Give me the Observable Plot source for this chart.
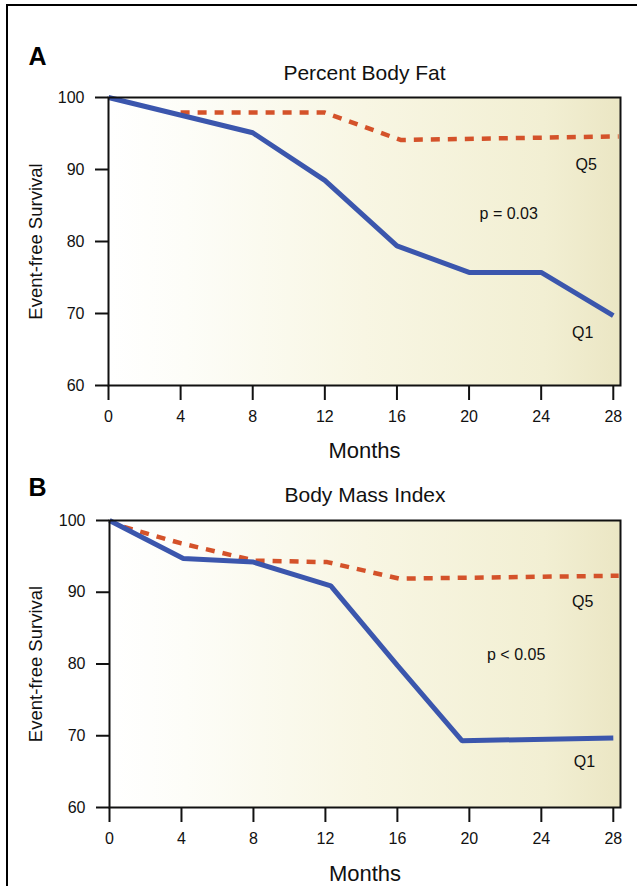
<!DOCTYPE html>
<html>
<head>
<meta charset="utf-8">
<script src="https://cdn.jsdelivr.net/npm/d3@7"></script>
<script src="https://cdn.jsdelivr.net/npm/@observablehq/plot@0.6"></script>
<style>
  html, body { margin: 0; padding: 0; background: #ffffff; }
  #fig { position: relative; width: 637px; height: 886px; overflow: hidden; background: #ffffff; }
  #fig .panel { position: absolute; left: 0; }
  #outer { position: absolute; left: 6px; top: 4px; width: 700px; height: 900px;
           border-left: 2.5px solid #000; border-top: 2.5px solid #000; pointer-events: none; }
</style>
</head>
<body>
<div id="fig"><div id="outer"></div></div>
<script>
// ---- Data ----
const xTicks = [0, 4, 8, 12, 16, 20, 24, 28];
const yTicks = [60, 70, 80, 90, 100];

// Panel A: Percent Body Fat
const monthsA_Q1 = [0, 8, 12, 16, 20, 24, 28];
const survA_Q1   = [100, 95.1, 88.5, 79.4, 75.7, 75.7, 69.7];
const monthsA_Q5 = [4, 12, 16.2, 28.3];
const survA_Q5   = [97.9, 97.9, 94.1, 94.6];
const notesA_text  = ["p = 0.03", "Q5", "Q1"];
const notesA_month = [22.2, 26.5, 26.3];
const notesA_surv  = [83.8, 90.6, 67.3];

// Panel B: Body Mass Index
const monthsB_Q1 = [0, 4.1, 8, 12.3, 16, 19.6, 28];
const survB_Q1   = [100, 94.7, 94.2, 90.9, 79.8, 69.3, 69.7];
const monthsB_Q5 = [0.8, 4, 8.1, 12.1, 16.1, 28.3];
const survB_Q5   = [99.1, 96.8, 94.4, 94.2, 91.9, 92.3];
const notesB_text  = ["p < 0.05", "Q5", "Q1"];
const notesB_month = [22.6, 26.3, 26.4];
const notesB_surv  = [81.3, 88.6, 66.3];

const toRows = (ms, vs) => ms.map((m, i) => ({month: m, surv: vs[i]}));
const toNotes = (t, ms, vs) => t.map((s, i) => ({label: s, month: ms[i], surv: vs[i]}));

const BLUE = "#3b56ad";
const ORANGE = "#d4522a";
const FONT = "'Liberation Sans', Arial, Helvetica, sans-serif";

function panel({letter, title, q1, q5, notes, gradId, height, marginTop, marginBottom, marginLeft, top, offs}) {
  const plot = Plot.plot({
    width: 637,
    height,
    marginTop,
    marginBottom,
    marginLeft,
    marginRight: 17,
    style: {fontFamily: FONT, fontSize: "16px", color: "#111", background: "transparent", overflow: "visible"},
    x: {domain: [0, 28.4]},
    y: {domain: [60, 100]},
    marks: [
      Plot.frame({fill: `url(#${gradId})`, stroke: "none"}),
      Plot.axisX({ticks: xTicks, tickSize: 15, tickPadding: 10, strokeWidth: 2, label: null, fontSize: 16}),
      Plot.axisY({ticks: yTicks, tickSize: 13, tickPadding: 11, strokeWidth: 2, label: null, fontSize: 16}),
      Plot.line(q5, {x: "month", y: "surv", stroke: ORANGE, strokeWidth: 4.5, strokeDasharray: "9,8", strokeLinecap: "butt", strokeLinejoin: "miter"}),
      Plot.line(q1, {x: "month", y: "surv", stroke: BLUE, strokeWidth: 5, strokeLinecap: "butt", strokeLinejoin: "miter"}),
      Plot.frame({stroke: "#111", strokeWidth: 2}),
      Plot.text(notes, {x: "month", y: "surv", text: "label", fontSize: 16, fill: "#111"}),
      Plot.text([letter], {text: d => d, frameAnchor: "top-left", textAnchor: "start", lineAnchor: "top", dx: 28 - marginLeft, dy: offs.letter, fontSize: 25, fontWeight: "bold", fill: "#000"}),
      Plot.text([title], {text: d => d, frameAnchor: "top", textAnchor: "middle", lineAnchor: "top", dy: offs.title, fontSize: 21, fill: "#111"}),
      Plot.text(["Months"], {text: d => d, frameAnchor: "bottom", textAnchor: "middle", lineAnchor: "top", dy: offs.months, fontSize: 22, fill: "#111"}),
      Plot.text(["Event-free Survival"], {text: d => d, frameAnchor: "left", textAnchor: "middle", lineAnchor: "middle", rotate: -90, dx: 36 - marginLeft, fontSize: 18.5, fill: "#111"})
    ]
  });
  d3.select(plot).insert("defs", ":first-child").html(
    `<linearGradient id="${gradId}" x1="0" y1="0" x2="1" y2="0">
       <stop offset="0" stop-color="#ffffff"/>
       <stop offset="0.15" stop-color="#fdfdf8"/>
       <stop offset="0.5" stop-color="#f8f6e3"/>
       <stop offset="0.85" stop-color="#f2efd3"/>
       <stop offset="1" stop-color="#ebe6c4"/>
     </linearGradient>`);
  const wrap = document.createElement("div");
  wrap.className = "panel";
  wrap.style.top = top + "px";
  wrap.appendChild(plot);
  document.getElementById("fig").appendChild(wrap);
}

panel({
  letter: "A", title: "Percent Body Fat",
  q1: toRows(monthsA_Q1, survA_Q1), q5: toRows(monthsA_Q5, survA_Q5),
  notes: toNotes(notesA_text, notesA_month, notesA_surv),
  gradId: "gradA", top: 0, height: 465, marginTop: 97, marginBottom: 80, marginLeft: 108,
  offs: {letter: 47 - 97, title: 65 - 97, months: 57}
});
panel({
  letter: "B", title: "Body Mass Index",
  q1: toRows(monthsB_Q1, survB_Q1), q5: toRows(monthsB_Q5, survB_Q5),
  notes: toNotes(notesB_text, notesB_month, notesB_surv),
  gradId: "gradB", top: 465, height: 421, marginTop: 55, marginBottom: 79, marginLeft: 109,
  offs: {letter: 478 - 520, title: 487 - 520, months: 58}
});
</script>
</body>
</html>
